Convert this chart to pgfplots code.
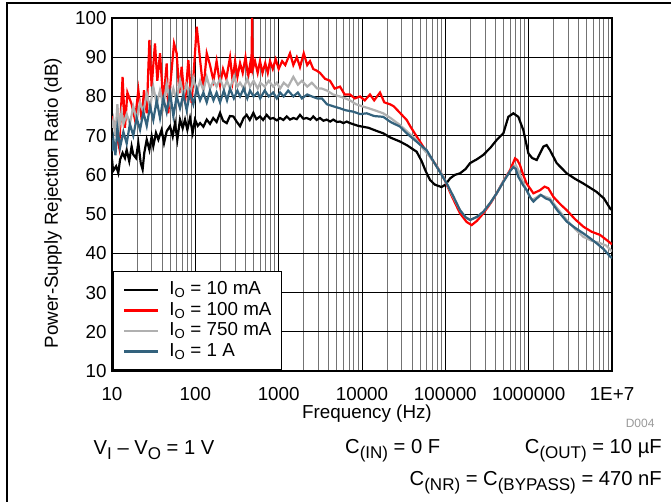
\documentclass[border=0pt]{standalone}
\usepackage{fontspec}
\setmainfont{Liberation Sans}
\usepackage{pgfplots}
\pgfplotsset{compat=1.18}
\definecolor{cgray}{RGB}{176,176,176}
\definecolor{cblue}{RGB}{51,98,125}
\newcommand\sub[1]{\raisebox{-5pt}{\fontsize{17}{17}\selectfont #1}}
\begin{document}
\begin{tikzpicture}[x=1pt,y=1pt]
\useasboundingbox (-112,-131) rectangle (559,371);
\draw[line width=1.3pt] (-105,-131) -- (-105,368) -- (559,368);
\begin{axis}[
  at={(0,0)}, anchor=south west,
  width=500pt, height=353pt, scale only axis,
  xmode=log, xmin=10, xmax=1e7, ymin=10, ymax=100,
  xtick={10,100,1000,10000,100000,1000000,10000000},
  xticklabels={10,100,1000,10000,100000,1000000,1E+7},
  minor xtick={20,30,40,50,60,70,80,90,200,300,400,500,600,700,800,900,2000,3000,4000,5000,6000,7000,8000,9000,20000,30000,40000,50000,60000,70000,80000,90000,200000,300000,400000,500000,600000,700000,800000,900000,2000000,3000000,4000000,5000000,6000000,7000000,8000000,9000000},
  ytick={10,20,30,40,50,60,70,80,90,100},
  yticklabels={10,20,30,40,50,60,70,80,90,100},
  major tick length=0pt, minor tick length=0pt,
  xmajorgrids, xminorgrids, ymajorgrids,
  major grid style={black, line width=0.9pt},
  minor grid style={black!55, line width=0.9pt},
  axis line style={line width=2pt},
  tick label style={font=\fontsize{18.8}{22}\selectfont},
  xticklabel style={yshift=-13pt},
  yticklabel style={xshift=-2pt},
  xlabel={Frequency (Hz)},
  ylabel={Power-Supply Rejection Ratio (dB)},
  label style={font=\fontsize{18.8}{22}\selectfont},
  xlabel style={at={(axis description cs:0.51,-0.122)}, anchor=center},
  ylabel style={at={(axis description cs:-0.118,0.476)}, anchor=center},
  legend cell align=left,
  legend style={at={(0,0)}, anchor=south west, draw=black, line width=1.8pt, fill=white,
    font=\fontsize{18.8}{22}\selectfont, inner xsep=10pt, inner ysep=9pt, row sep=1.5pt, column sep=0pt,
    nodes={inner sep=0pt, text height=14pt, text depth=5pt},
    /tikz/every odd column/.append style={column sep=10pt}},
  legend image code/.code={\draw[#1, line width=2.4pt] (0pt,0pt) -- (34pt,0pt);},
]
\addplot[black, line width=2.2pt] coordinates {
(10,64) (10.3,61) (10.6,61.4) (11.2,62.2) (11.9,60.5) (12.5,63.9) (13.4,65.6) (14.3,64.3) (15.0,66.4) (16.1,63.5) (17.2,67.3) (18.0,65.2) (19.4,64.3) (20.7,68.1) (22.1,63.1) (23.3,61.4) (24.4,65.6) (26.1,69.0) (28.1,66.4) (29.9,69.8) (31.3,67.3) (33.7,70.7) (36.0,69.0) (39.4,71.5) (42.1,68.1) (45.3,71.1) (49.7,72.4) (53.5,69.8) (57.0,73.2) (60.8,69.0) (65.5,74.1) (70.5,71.9) (75.2,74.1) (80.2,71.5) (86.3,74.5) (92.9,70.7) (99,74.1) (107,72.5) (114,73.2) (125,72.3) (137,74.1) (150,73) (164,74.5) (180,73.5) (198,75.8) (215,73.8) (238,73.2) (260,75) (286,74.9) (315,73.5) (344,72.4) (380,74.5) (413,75.3) (450,74) (497,75.8) (540,74.2) (597,74.9) (650,74) (718,75.3) (790,74.3) (863,74.5) (950,73.9) (1038,74.5) (1140,74) (1247,74.9) (1370,74.1) (1500,74.5) (1650,74.2) (1803,75.3) (1980,74.3) (2168,74.5) (2400,74.1) (2606,74.9) (2850,74) (3133,74.5) (3450,73.8) (3767,74.1) (4150,73.6) (4529,74.1) (5000,73.5) (5445,73.6) (6000,73.2) (6546,73.6) (7180,73.2) (9000,72.5) (12000,72) (15000,71.2) (18000,70.6) (22000,69.5) (28600,68.5) (35000,67.5) (45300,65.9) (52000,63.5) (58000,61) (65500,58.7) (75000,57.5) (90000,56.9) (100000,57.5) (114000,59.1) (130000,60) (150000,60.4) (175000,61.5) (198000,63.0) (240000,64) (286000,65.1) (350000,67) (413000,68.9) (497000,70.6) (570000,74.8) (655000,75.7) (752000,74.8) (863000,71.4) (991000,65.5) (1100000,64.3) (1250000,63.8) (1500000,67.2) (1640000,67.6) (1800000,66.3) (2170000,63.0) (2860000,60.4) (3600000,59) (4530000,57.8) (6500000,55.7) (8000000,54) (9460000,51.5) (10000000,51)
};
\addlegendentry{I\textsubscript{O} = 10 mA}
\addplot[red, line width=2.2pt] coordinates {
(10,75) (10.6,73) (11.4,70) (12.2,67) (13.4,85) (14.3,72) (15.3,81) (17.2,78) (18.9,74) (20.7,81.6) (22.7,74) (24.2,81.6) (26.1,75.7) (28.1,94.4) (29.9,82.5) (32.8,93.5) (35.0,84) (37.7,91) (41.3,78.3) (45.3,88.4) (47.4,75.7) (50.6,84) (55.5,93.5) (59.7,91) (64.3,80.8) (68.5,87.6) (75.2,78.3) (82.4,89.3) (90.3,78.3) (104,97.8) (114,89.3) (125,81.6) (137,91) (150,88) (165,84) (180,89) (198,83) (215,87) (235,84.5) (261,90) (280,84) (300,89) (320,85) (344,88.5) (370,86) (400,90) (430,85) (453,88) (470,86) (480,100) (490,87) (520,89) (560,86) (597,89) (640,86) (690,88.5) (740,86) (787,89) (850,87) (920,89.5) (1000,87) (1100,89) (1200,88) (1368,91) (1500,88) (1650,90) (1803,87.5) (2000,91) (2200,88) (2377,89) (2600,87) (2900,86.5) (3133,86) (3600,84.5) (4130,84) (4700,82) (5445,82.5) (6200,80.5) (7178,80.5) (8200,79.5) (9462,80) (10800,79) (12470,80.5) (14000,79) (16440,81) (18500,78.5) (21670,78) (24000,77.5) (28580,75.8) (34400,74) (37670,72.5) (45300,69.8) (55000,67) (65500,64.7) (80000,62) (94600,59.5) (120000,54.5) (150000,50.2) (180000,48) (207000,47.2) (240000,48.3) (286000,50.2) (350000,52.8) (413000,55.3) (500000,58.5) (597000,61.2) (686000,64.2) (730000,63.8) (787000,62.5) (860000,60) (946000,57.8) (1140000,55.3) (1370000,56.1) (1550000,57.0) (1720000,56.6) (1980000,54.4) (2400000,52.5) (2860000,51.0) (3600000,48.7) (4530000,46.8) (5700000,45.5) (7180000,44.7) (8500000,43.5) (10000000,42.3)
};
\addlegendentry{I\textsubscript{O} = 100 mA}
\addplot[cgray, line width=2.2pt] coordinates {
(10,72) (10.4,74) (11.0,70) (11.6,78) (12.2,72) (13.0,76) (13.7,73) (15.0,75.5) (16.4,73) (18.0,77.5) (19.8,74) (21.7,78.5) (23.8,76) (26.1,80.8) (28.6,77) (31.3,82.5) (34.4,78) (37.7,81.6) (41.3,77.5) (45.3,83.3) (49.7,78.5) (54.5,82) (59.7,79) (65.5,84.2) (71.8,80) (78.7,83) (86.3,80.5) (94.6,84.5) (104,81) (114,84) (125,81.5) (137,85) (150,82) (165,84) (180,82.5) (198,84.5) (220,82) (240,84) (261,82) (290,85) (320,82.5) (344,83.5) (380,82) (420,84.5) (453,82.5) (500,84) (560,82) (600,83.5) (680,82.5) (760,84) (860,82.5) (950,83.5) (1040,82) (1150,83.5) (1300,82.5) (1500,85) (1700,83) (1900,84) (2200,82.5) (2500,83.5) (2900,82) (3300,82) (3800,81.5) (4500,80.5) (5400,80) (6300,79.5) (7180,79) (8500,78) (10000,77.5) (12000,77) (15000,76.3) (18000,75.7) (22000,74.5) (28600,72.7) (35000,71) (45000,68.9) (55000,66.5) (65000,64.7) (80000,62) (95000,59.5) (120000,55) (150000,51) (175000,49.2) (198000,48.5) (240000,49.3) (286000,50.6) (350000,53) (413000,55.3) (500000,58.5) (600000,61) (655000,62.1) (700000,62.5) (752000,61.2) (820000,59) (900000,57.0) (1000000,55) (1100000,53.6) (1250000,54.3) (1370000,54.9) (1550000,54.5) (1800000,54.0) (2200000,51.5) (2860000,48.5) (3600000,46.2) (4530000,44.2) (5700000,43.2) (7180000,42.6) (8500000,42) (10000000,40.5)
};
\addlegendentry{I\textsubscript{O} = 750 mA}
\addplot[cblue, line width=2.2pt] coordinates {
(10,66) (10.4,69) (11.0,65) (11.6,72) (12.5,67) (13.7,71) (15.0,68) (16.4,73) (18.0,70) (19.8,74.5) (21.7,71.5) (23.8,76) (26.1,72.5) (28.6,77.5) (31.3,74) (34.4,79) (37.7,74.5) (41.3,79.5) (45.3,76) (49.7,81) (54.5,75) (59.7,80) (65.5,77) (71.8,80.5) (78.7,76.5) (86.3,81) (94.6,78) (104,82) (114,79) (125,81) (137,78.5) (150,81.5) (165,79) (180,81) (198,78.5) (220,81.5) (240,79) (261,82) (290,79.5) (320,81.5) (344,80) (380,82) (420,79.5) (453,81.5) (500,80) (560,81) (600,79.5) (680,81.5) (760,80) (860,81) (950,79.5) (1040,81) (1150,80) (1300,81.5) (1500,80) (1700,81) (1900,79.5) (2200,80.5) (2500,80) (2900,79.5) (3300,79.5) (3800,78) (4500,77.5) (5400,77) (6300,76.5) (7900,76.1) (9500,75.5) (11400,75.7) (14000,75) (18000,74.8) (22000,73.5) (28600,72.3) (34400,70.6) (45000,68.5) (59700,66.3) (78700,62.1) (104000,57.8) (125000,54.5) (150000,51) (175000,49.2) (198000,48.5) (240000,49.3) (286000,50.6) (350000,53) (413000,55.3) (500000,58.3) (600000,61) (655000,62) (700000,61.5) (752000,59.5) (850000,57.5) (946000,56.1) (1050000,54.2) (1140000,53.2) (1250000,54) (1400000,54.9) (1600000,54) (1800000,53.6) (2200000,51) (2860000,48.1) (3600000,46.5) (4530000,45.1) (5500000,43.8) (6500000,42.6) (8000000,41) (9460000,39.2) (10000000,38.8)
};
\addlegendentry{I\textsubscript{O} = 1 A}
\end{axis}
\begin{scope}[font=\fontsize{20.2}{24}\selectfont, inner sep=0pt]
\node[anchor=west] at (-18.5,-79.6) {V\sub{I} -- V\sub{O} = 1 V};
\node[anchor=west] at (233,-79.6) {C\sub{(IN)} = 0 F};
\node[anchor=east] at (550,-79.6) {C\sub{(OUT)} = 10 µF};
\node[anchor=east] at (550,-112) {C\sub{(NR)} = C\sub{(BYPASS)} = 470 nF};
\end{scope}
\node[anchor=east, text=black!40, font=\fontsize{12}{14}\selectfont] at (546,-52) {D004};
\end{tikzpicture}
\end{document}
